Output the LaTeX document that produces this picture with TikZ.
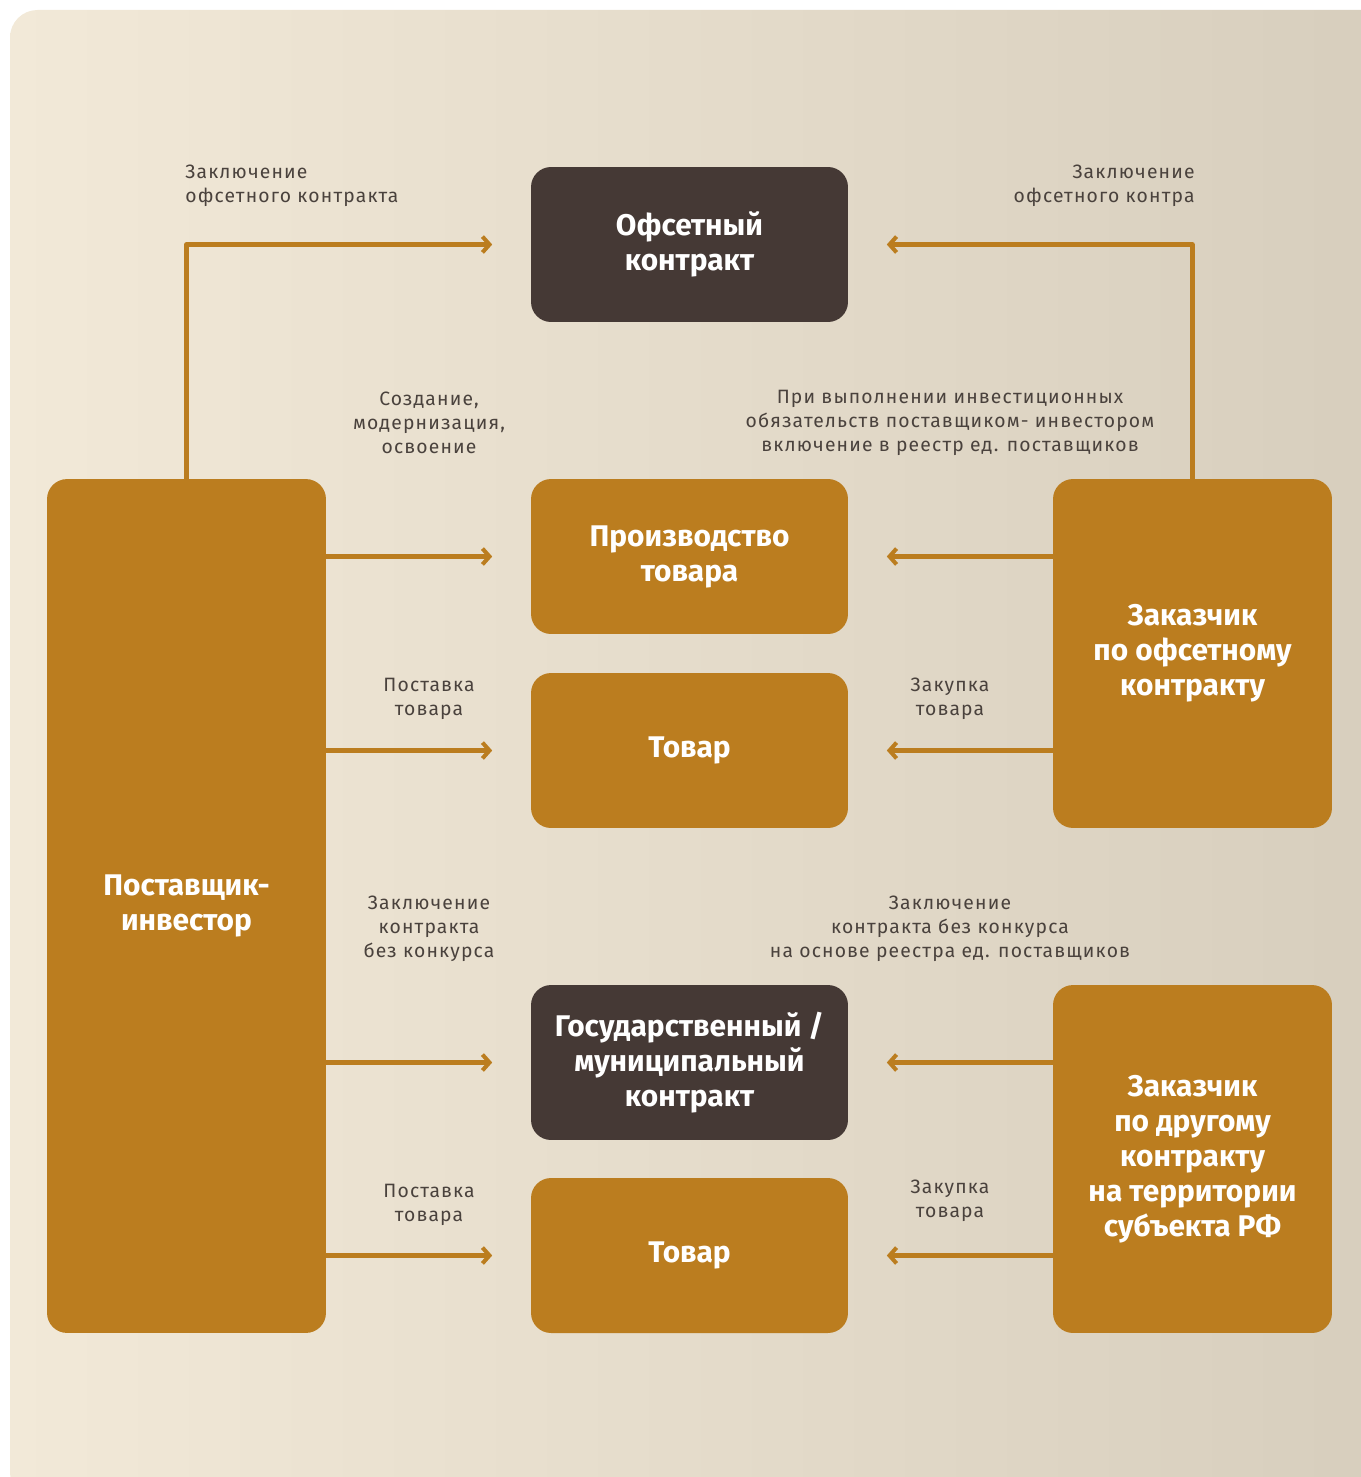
\documentclass[tikz,border=0pt]{standalone}
\usepackage{fontspec}
\setmainfont{Fira Sans}
\newfontfamily\lblfont[LetterSpace=6]{Fira Sans}
\newfontfamily\boxfont{Fira Sans}
\usetikzlibrary{arrows.meta}
\definecolor{ochre}{HTML}{BB7D1F}
\definecolor{darkbrown}{HTML}{453935}
\definecolor{lblgray}{HTML}{4A423D}
\definecolor{bgleft}{HTML}{F2E9D8}
\definecolor{bgright}{HTML}{D7CEBD}
\begin{document}
\begin{tikzpicture}[x=0.02cm, y=-0.02cm, line join=round,
		box/.style={rounded corners=0.4cm, align=center, text=white, inner sep=0pt,
			font=\boxfont\bfseries\fontsize{17}{19.9}\selectfont},
		smallbox/.style={box, minimum width=6.34cm, minimum height=3.1cm},
		lbl/.style={align=center, text=lblgray, inner sep=0pt, font=\lblfont\fontsize{11}{13.6}\selectfont},
		flow/.style={draw=ochre, line width=2.3pt, shorten >=0.77cm,
			-{Straight Barb[length=4pt, width=9pt]}}]
		% background
		\useasboundingbox (0,0) rectangle (1360,1477);
		\shade[left color=bgleft, right color=bgright, rounded corners=0.55cm] (10,10) rectangle (1390,1500);
		% boxes
		\node[smallbox, fill=darkbrown] (offset) at (689.5,244.5) {Офсетный\\контракт};
		\node[smallbox, fill=ochre] (prod) at (689.5,556.5) {Производство\\товара};
		\node[smallbox, fill=ochre] (goodsA) at (689.5,750.5) {Товар};
		\node[smallbox, fill=darkbrown] (state) at (689.5,1062.5) {Государственный /\\муниципальный\\контракт};
		\node[smallbox, fill=ochre] (goodsB) at (689.5,1255.5) {Товар};
		\node[box, fill=ochre, minimum width=5.58cm, minimum height=17.08cm] (supplier) at (186.5,906) {Поставщик-\\инвестор};
		\node[box, fill=ochre, minimum width=5.58cm, minimum height=6.98cm] (custA) at (1192.5,653.5) {Заказчик\\по офсетному\\контракту};
		\node[box, fill=ochre, minimum width=5.58cm, minimum height=6.96cm] (custB) at (1192.5,1159) {Заказчик\\по другому\\контракту\\на территории\\субъекта РФ};
		% connectors
		\draw[flow] (supplier.north) |- (offset.west);
		\draw[flow] (custA.north) |- (offset.east);
		\draw[flow] (prod.west -| supplier.east) -- (prod.west);
		\draw[flow] (prod.east -| custA.west) -- (prod.east);
		\draw[flow] (goodsA.west -| supplier.east) -- (goodsA.west);
		\draw[flow] (goodsA.east -| custA.west) -- (goodsA.east);
		\draw[flow] (state.west -| supplier.east) -- (state.west);
		\draw[flow] (state.east -| custB.west) -- (state.east);
		\draw[flow] (goodsB.west -| supplier.east) -- (goodsB.west);
		\draw[flow] (goodsB.east -| custB.west) -- (goodsB.east);
		% labels
		\node[lbl, align=left, anchor=west] (lblOffL) at (185,186) {Заключение\\офсетного контракта};
		\node[lbl, align=right, anchor=east] (lblOffR) at (1195,186) {Заключение\\офсетного контра};
		\node[lbl] (lblCreate) at (429,423) {Создание,\\модернизация,\\освоение};
		\node[lbl] (lblRegistry) at (950,423) {При выполнении инвестиционных\\обязательств поставщиком- инвестором\\включение в реестр ед. поставщиков};
		\node[lbl] (lblSupplyA) at (429,699) {Поставка\\товара};
		\node[lbl] (lblBuyA) at (950,699) {Закупка\\товара};
		\node[lbl] (lblNoCompL) at (429,929) {Заключение\\контракта\\без конкурса};
		\node[lbl] (lblNoCompR) at (950,929) {Заключение\\контракта без конкурса\\на основе реестра ед. поставщиков};
		\node[lbl] (lblSupplyB) at (429,1205) {Поставка\\товара};
		\node[lbl] (lblBuyB) at (950,1201) {Закупка\\товара};
\end{tikzpicture}
\end{document}
